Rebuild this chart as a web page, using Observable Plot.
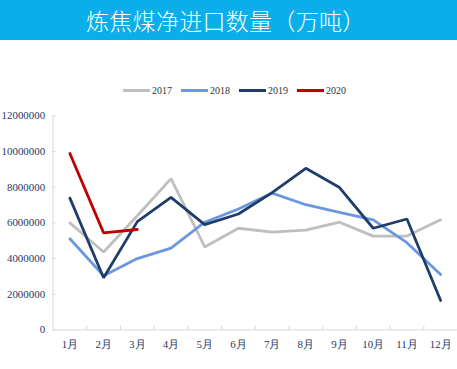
<!DOCTYPE html>
<html>
<head>
<meta charset="utf-8">
<script src="https://cdn.jsdelivr.net/npm/d3@7"></script>
<script src="https://cdn.jsdelivr.net/npm/@observablehq/plot@0.6"></script>
<style>
  html, body { margin: 0; padding: 0; background: #fff; }
  body { width: 457px; height: 369px; overflow: hidden; position: relative; }
  #title { height: 40px; background: #0AAFEA; color: #fff; font-family: "Noto Sans CJK SC", sans-serif; font-size: 23px; line-height: 40px; padding-left: 86px; font-weight: 300; white-space: nowrap; letter-spacing: 0.3px; }
  #legend { position: absolute; top: 85px; left: 123px; display: flex; align-items: center; font-family: "Liberation Serif", serif; font-size: 10px; color: #333; }
  #legend .item { display: flex; align-items: center; margin-right: 9px; }
  #legend .sw { width: 27px; height: 3px; margin-right: 2px; }
  #chart { position: absolute; top: 40px; left: 0; }
  #chart svg { display: block; }
</style>
</head>
<body>
<div id="title">炼焦煤净进口数量（万吨）</div>
<div id="legend"></div>
<div id="chart"></div>
<script>
const months = ["1月","2月","3月","4月","5月","6月","7月","8月","9月","10月","11月","12月"];
const years = ["2017","2018","2019","2020"];
const colors = ["#BFBFBF","#6B97E1","#1F3D6B","#C00000"];
const v2017 = [6000000,4370000,6400000,8480000,4650000,5700000,5480000,5600000,6040000,5260000,5260000,6170000];
const v2018 = [5110000,3040000,4000000,4590000,6040000,6780000,7670000,7020000,6590000,6170000,4890000,3110000];
const v2019 = [7390000,2930000,6070000,7430000,5900000,6500000,7700000,9060000,7980000,5700000,6220000,1650000];
const v2020 = [9890000,5440000,5630000];
const yTicks = [0,2000000,4000000,6000000,8000000,10000000,12000000];

const series = [v2017, v2018, v2019, v2020];
const data = series.flatMap((vals, si) => vals.map((v, i) => ({year: years[si], m: i + 1, v})));
const boundaries = months.map((_, i) => i + 1.5);

const labelColor = "#1F3864";
const axisColor = "#D9D9D9";

const plot = Plot.plot({
  width: 461,
  height: 329,
  marginLeft: 53,
  marginRight: 0,
  marginTop: 76,
  marginBottom: 37,
  style: { fontFamily: "Liberation Serif, serif", fontSize: "11px", color: labelColor, background: "transparent" },
  x: { type: "linear", domain: [0.5, 12.5], label: null },
  y: { domain: [0, 12000000], label: null },
  color: { domain: years, range: colors },
  marks: [
    Plot.ruleY([0], { stroke: axisColor, strokeWidth: 1 }),
    Plot.ruleX([0.5], { stroke: axisColor, strokeWidth: 1 }),
    Plot.axisX({ ticks: boundaries, tickFormat: () => "", tickSize: -4, stroke: axisColor, strokeOpacity: 1, label: null }),
    Plot.axisX({ ticks: months.map((_, i) => i + 1), tickFormat: d => months[d - 1], tickSize: 0, tickPadding: 10, fill: labelColor, fontSize: 11, label: null }),
    Plot.axisY({ ticks: yTicks, tickFormat: d3.format("d"), tickSize: -3, stroke: axisColor, strokeOpacity: 1, tickPadding: 11, fill: labelColor, fontSize: 11, label: null }),
    Plot.lineY(data, { x: "m", y: "v", z: "year", stroke: "year", strokeWidth: 2.8, strokeLinejoin: "miter" })
  ]
});
document.getElementById("chart").appendChild(plot);

const legend = document.getElementById("legend");
years.forEach((y, i) => {
  const item = document.createElement("div");
  item.className = "item";
  const sw = document.createElement("div");
  sw.className = "sw";
  sw.style.background = colors[i];
  const t = document.createElement("span");
  t.textContent = y;
  item.appendChild(sw);
  item.appendChild(t);
  legend.appendChild(item);
});
</script>
</body>
</html>
